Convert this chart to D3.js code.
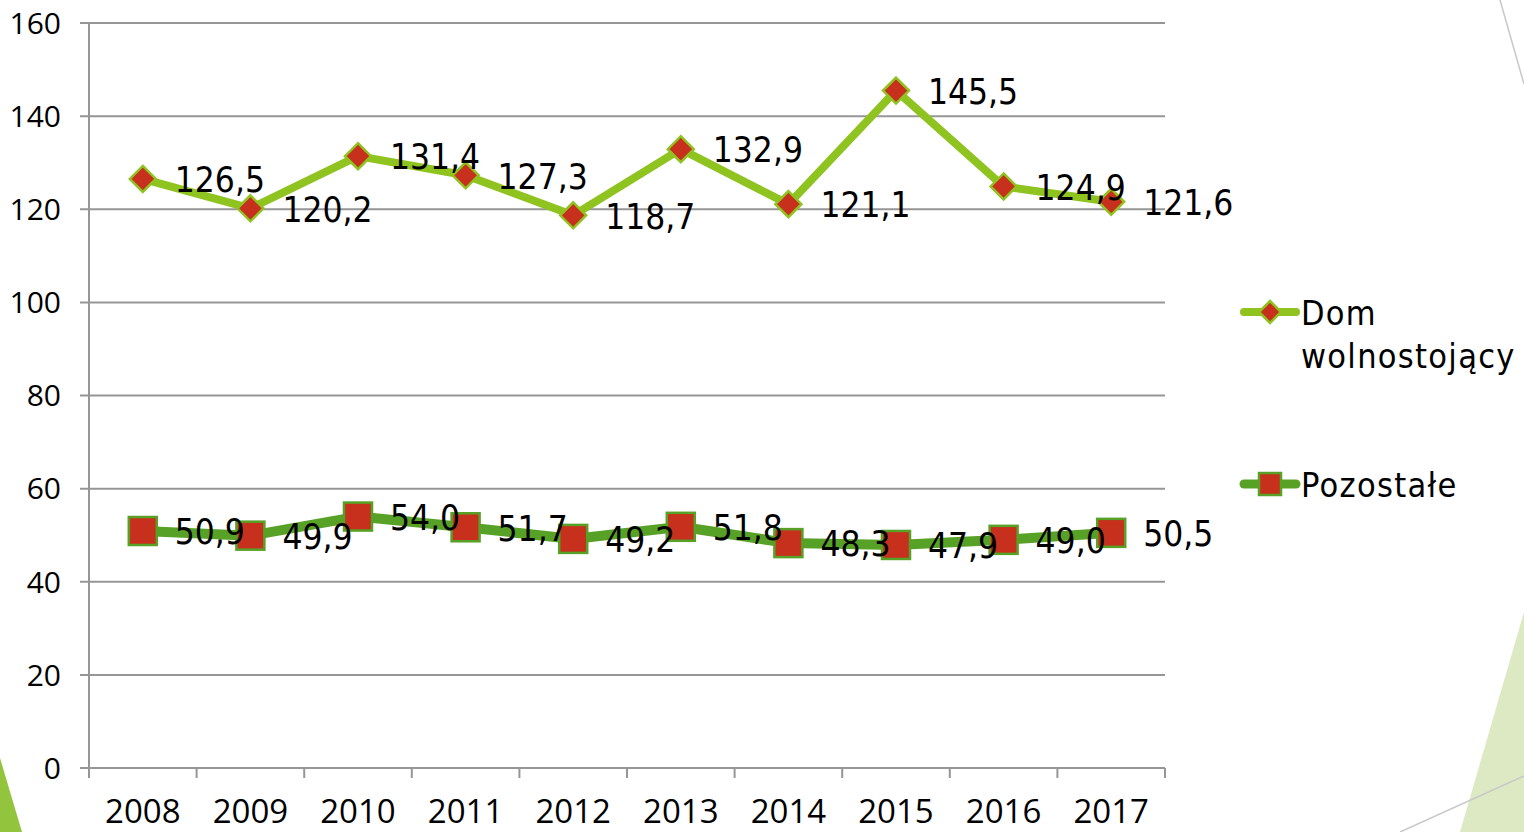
<!DOCTYPE html>
<html><head><meta charset="utf-8">
<script src="https://cdn.jsdelivr.net/npm/d3@7"></script>
<style>
html,body{margin:0;padding:0;background:#fff;overflow:hidden}
svg{display:block}
</style></head><body>
<svg id="c" width="1524" height="832"></svg>
<script>
const years = ["2008","2009","2010","2011","2012","2013","2014","2015","2016","2017"];
const domValues = [126.5,120.2,131.4,127.3,118.7,132.9,121.1,145.5,124.9,121.6];
const pozValues = [50.9,49.9,54.0,51.7,49.2,51.8,48.3,47.9,49.0,50.5];
const yTicks = [0,20,40,60,80,100,120,140,160];
const seriesNames = ["Dom wolnostojący","Pozostałe"];

const svg = d3.select("#c");
const pLeft = 89, pRight = 1165, pTop = 23, pBottom = 768;
const x = d3.scaleBand().domain(years).range([pLeft, pRight]);
const y = d3.scaleLinear().domain([0,160]).range([pBottom, pTop]);

// decorations
svg.append("path").attr("d","M0,758 L22,832 L0,832 Z").attr("fill","#92c43e");
svg.append("path").attr("d","M1460,832 L1524,612 L1524,832 Z").attr("fill","#dce9c2");
svg.append("line").attr("x1",1500).attr("y1",0).attr("x2",1524).attr("y2",84).attr("stroke","#c8c8c8").attr("stroke-width",1.5);
svg.append("line").attr("x1",1400).attr("y1",832).attr("x2",1524).attr("y2",776).attr("stroke","#c8c8c8").attr("stroke-width",1.5);

const gray = "#969696";
// grid
svg.append("g").selectAll("line").data(yTicks).join("line")
  .attr("x1",pLeft-9).attr("x2",pRight).attr("y1",d=>y(d)).attr("y2",d=>y(d))
  .attr("stroke",gray).attr("stroke-width",2);
// y axis line
svg.append("line").attr("x1",pLeft).attr("x2",pLeft).attr("y1",pTop).attr("y2",pBottom+10).attr("stroke",gray).attr("stroke-width",2);
// x ticks
const bounds = years.map(d=>x(d)).concat([pRight]);
svg.append("g").selectAll("line").data(bounds).join("line")
  .attr("x1",d=>d).attr("x2",d=>d).attr("y1",pBottom).attr("y2",pBottom+10)
  .attr("stroke",gray).attr("stroke-width",2);
// y labels
svg.append("g").selectAll("text").data(yTicks).join("text")
  .attr("x",61).attr("y",d=>y(d)).attr("dy","0.36em").attr("text-anchor","end")
  .attr("font-family","Open Sans, sans-serif").attr("font-size",30).attr("fill","#000")
  .text(d=>d);
// x labels
svg.append("g").selectAll("text").data(years).join("text")
  .attr("x",d=>x(d)+x.bandwidth()/2).attr("y",823).attr("text-anchor","middle")
  .attr("font-family","Open Sans, sans-serif").attr("font-size",33).attr("fill","#000")
  .text(d=>d);

const cx = d=>x(d)+x.bandwidth()/2;
const line = d3.line().x((d,i)=>cx(years[i])).y(d=>y(d));
const red = "#c6301c";
const domColor = "#8fc31f", pozColor = "#57a127";

svg.append("path").datum(pozValues).attr("d",line).attr("fill","none")
  .attr("stroke",pozColor).attr("stroke-width",10).attr("stroke-linejoin","round");
svg.append("path").datum(domValues).attr("d",line).attr("fill","none")
  .attr("stroke",domColor).attr("stroke-width",8).attr("stroke-linejoin","round");

const fmt = v => d3.format(".1f")(v).replace(".",",");
const lblFont = "'DejaVu Sans Condensed', 'DejaVu Sans', sans-serif";

function diamond(g, px, py, s){
  g.append("path").attr("d",`M${px},${py-s} L${px+s},${py} L${px},${py+s} L${px-s},${py} Z`)
   .attr("fill",red).attr("stroke",domColor).attr("stroke-width",2.5);
}
function square(g, px, py, s){
  g.append("rect").attr("x",px-s).attr("y",py-s).attr("width",2*s).attr("height",2*s)
   .attr("fill",red).attr("stroke",pozColor).attr("stroke-width",2.5);
}

const mk = svg.append("g");
pozValues.forEach((v,i)=>square(mk, cx(years[i]), y(v), 14));
domValues.forEach((v,i)=>diamond(mk, cx(years[i]), y(v), 13));

const lbl = svg.append("g").attr("font-family",lblFont).attr("font-size",35).attr("fill","#000");
domValues.forEach((v,i)=>lbl.append("text").attr("x",cx(years[i])+32).attr("y",y(v)).attr("dy","0.38em").text(fmt(v)));
pozValues.forEach((v,i)=>lbl.append("text").attr("x",cx(years[i])+32).attr("y",y(v)).attr("dy","0.38em").text(fmt(v)));

// legend
const lg = svg.append("g");
lg.append("line").attr("x1",1244).attr("x2",1296).attr("y1",312).attr("y2",312).attr("stroke",domColor).attr("stroke-width",8).attr("stroke-linecap","round");
diamond(lg,1270,312,11);
lg.append("line").attr("x1",1244).attr("x2",1296).attr("y1",484).attr("y2",484).attr("stroke",pozColor).attr("stroke-width",9).attr("stroke-linecap","round");
square(lg,1270,484,11);
const lt = lg.append("g").attr("font-family",lblFont).attr("font-size",34).attr("letter-spacing",1.3).attr("fill","#000");
const parts = seriesNames[0].split(" ");
lt.append("text").attr("x",1301).attr("y",312).attr("dy","0.38em").text(parts[0]);
lt.append("text").attr("x",1301).attr("y",355).attr("dy","0.38em").text(parts[1]);
lt.append("text").attr("x",1301).attr("y",484).attr("dy","0.38em").text(seriesNames[1]);
</script>
</body></html>
